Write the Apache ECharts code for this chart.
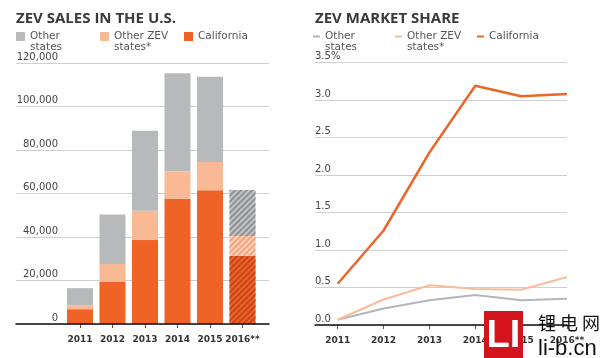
<!DOCTYPE html>
<html>
<head>
<meta charset="utf-8">
<script src="https://cdn.jsdelivr.net/npm/echarts@6/dist/echarts.min.js"></script>
<style>
html,body{margin:0;padding:0;background:#fff;}
#chart{width:600px;height:358px;}
</style>
</head>
<body>
<div id="chart"></div>
<script>
// ---- data ----
const years = ['2011', '2012', '2013', '2014', '2015', '2016**'];
const salesOtherStates = [8000, 22800, 36800, 45100, 39200, 21100];
const salesOtherZev = [1700, 8300, 13500, 12700, 13000, 9100];
const salesCalifornia = [6800, 19300, 38600, 57500, 61500, 31400];
const shareOtherStates = [0.07, 0.22, 0.33, 0.40, 0.33, 0.35];
const shareOtherZev = [0.07, 0.34, 0.53, 0.48, 0.47, 0.64];
const shareCalifornia = [0.55, 1.26, 2.30, 3.19, 3.05, 3.08];
const salesTickLabels = ['0', '20,000', '40,000', '60,000', '80,000', '100,000', '120,000'];
const shareTickLabels = ['0.0', '0.5', '1.0', '1.5', '2.0', '2.5', '3.0', '3.5%'];
const legendNames = ['Other states', 'Other ZEV states*', 'California'];
const legendLabels = {'Other states': ' \nOther\nstates', 'Other ZEV states*': ' \nOther ZEV\nstates*', 'California': 'California'};

const FONT = '"DejaVu Sans", sans-serif';
const TFONT = '"Open Sans", sans-serif';
const C_GRAY = '#b8b9bb', C_LIGHT = '#f9b995', C_ORANGE = '#ef6426';
const L_GRAY = '#b3b6bc', L_LIGHT = '#f9bb98', L_ORANGE = '#e8672c';

function hatch(base, stripe) {
  return {
    color: base,
    decal: {
      symbol: 'rect', symbolSize: 1, symbolKeepAspect: false,
      color: stripe, dashArrayX: [1, 0], dashArrayY: [2, 2], rotation: -Math.PI / 4
    }
  };
}
function barData(values, base, stripe) {
  return values.map((v, i) => i === values.length - 1 ? {value: v, itemStyle: hatch(base, stripe)} : v);
}

const chart = echarts.init(document.getElementById('chart'), null, {renderer: 'canvas'});
const legendText = {fontFamily: FONT, fontSize: 10.5, color: '#555', lineHeight: 11, width: 60};
chart.setOption({
  animation: false,
  backgroundColor: '#fff',
  textStyle: {fontFamily: FONT},
  title: [
    {text: 'ZEV SALES IN THE U.S.', left: 11, top: 6,
     textStyle: {fontFamily: TFONT, fontSize: 15, fontWeight: 700, color: '#3a3a3a'}},
    {text: 'ZEV MARKET SHARE', left: 310, top: 6,
     textStyle: {fontFamily: TFONT, fontSize: 15, fontWeight: 700, color: '#3a3a3a'}}
  ],
  legend: [
    {left: 16, top: 20, icon: 'rect', itemWidth: 9, itemHeight: 9, itemGap: 10, padding: 0,
     data: legendNames.map((n, i) => ({name: n, itemStyle: {color: [C_GRAY, C_LIGHT, C_ORANGE][i], decal: 'none'}})),
     formatter: n => legendLabels[n], textStyle: legendText, selectedMode: false},
    {left: 313, top: 20, icon: 'rect', itemWidth: 7, itemHeight: 2, itemGap: 10, padding: 0,
     data: legendNames.map((n, i) => ({name: n, itemStyle: {color: [L_GRAY, L_LIGHT, L_ORANGE][i]}})),
     formatter: n => legendLabels[n],
     textStyle: Object.assign({}, legendText, {width: 60}), selectedMode: false}
  ],
  grid: [
    {left: 16, right: 331, top: 63, bottom: 34},       // 0: left wide (gridlines)
    {left: 63.75, right: 341.25, top: 63, bottom: 34}, // 1: left bars
    {left: 315, right: 33, top: 62.5, bottom: 33},     // 2: right wide (gridlines)
    {left: 337.7, right: 33, top: 62.5, bottom: 33}    // 3: right lines
  ],
  xAxis: [
    {gridIndex: 0, type: 'value', min: 0, max: 1, z: 3,
     axisLine: {show: true, onZero: false, lineStyle: {color: '#111', width: 1.5}},
     axisTick: {show: false}, axisLabel: {show: false}, splitLine: {show: false}},
    {gridIndex: 1, type: 'category', data: years,
     axisLine: {show: false}, axisTick: {show: true, alignWithLabel: true, length: 4, lineStyle: {color: '#555'}},
     axisLabel: {fontFamily: FONT, fontSize: 9, fontWeight: 'bold', color: '#333', margin: 11, interval: 0}},
    {gridIndex: 2, type: 'value', min: 0, max: 1, z: 3,
     axisLine: {show: true, onZero: false, lineStyle: {color: '#111', width: 1.5}},
     axisTick: {show: false}, axisLabel: {show: false}, splitLine: {show: false}},
    {gridIndex: 3, type: 'category', data: years, boundaryGap: false,
     axisLine: {show: false}, axisTick: {show: true, length: 4, lineStyle: {color: '#555'}},
     axisLabel: {fontFamily: FONT, fontSize: 9, fontWeight: 'bold', color: '#333', margin: 11, interval: 0}}
  ],
  yAxis: [
    {gridIndex: 0, type: 'value', min: 0, max: 120000, interval: 20000,
     axisLine: {show: false}, axisTick: {show: false},
     splitLine: {show: true, lineStyle: {color: '#cfcfcf', width: 1}},
     axisLabel: {align: 'right', margin: -42, verticalAlign: 'bottom', padding: [0, 0, 1, 0],
                 fontFamily: FONT, fontSize: 10, color: '#444',
                 formatter: (v, i) => salesTickLabels[i]}},
    {gridIndex: 1, type: 'value', min: 0, max: 120000, interval: 20000, show: false},
    {gridIndex: 2, type: 'value', min: 0, max: 3.5, interval: 0.5,
     axisLine: {show: false}, axisTick: {show: false},
     splitLine: {show: true, lineStyle: {color: '#cfcfcf', width: 1}},
     axisLabel: {align: 'left', margin: 0, verticalAlign: 'bottom', padding: [0, 0, 1, 0],
                 fontFamily: FONT, fontSize: 10, color: '#444',
                 formatter: (v, i) => shareTickLabels[i]}},
    {gridIndex: 3, type: 'value', min: 0, max: 3.5, interval: 0.5, show: false}
  ],
  series: [
    {name: 'California', type: 'bar', stack: 'sales', xAxisIndex: 1, yAxisIndex: 1, barWidth: 26,
     itemStyle: {color: C_ORANGE}, data: barData(salesCalifornia, C_ORANGE, '#c4461a')},
    {name: 'Other ZEV states*', type: 'bar', stack: 'sales', xAxisIndex: 1, yAxisIndex: 1, barWidth: 26,
     itemStyle: {color: C_LIGHT}, data: barData(salesOtherZev, '#fbd2bb', '#f2a27a')},
    {name: 'Other states', type: 'bar', stack: 'sales', xAxisIndex: 1, yAxisIndex: 1, barWidth: 26,
     itemStyle: {color: C_GRAY}, data: barData(salesOtherStates, '#c3c4c6', '#8e9094')},
    {name: 'Other states', type: 'line', xAxisIndex: 3, yAxisIndex: 3, showSymbol: false,
     lineStyle: {color: L_GRAY, width: 2}, itemStyle: {color: L_GRAY}, data: shareOtherStates},
    {name: 'Other ZEV states*', type: 'line', xAxisIndex: 3, yAxisIndex: 3, showSymbol: false,
     lineStyle: {color: L_LIGHT, width: 2}, itemStyle: {color: L_LIGHT}, data: shareOtherZev},
    {name: 'California', type: 'line', xAxisIndex: 3, yAxisIndex: 3, showSymbol: false,
     lineStyle: {color: L_ORANGE, width: 2.5}, itemStyle: {color: L_ORANGE}, data: shareCalifornia}
  ],
  graphic: [
    {type: 'rect', z: 100, shape: {x: 484, y: 311, width: 39, height: 47}, style: {fill: '#d2151c'}},
    {type: 'text', z: 101, x: 503.5, y: 337, style: {text: 'LI', fill: '#fff', font: 'bold 38px "Liberation Sans", sans-serif', align: 'center', verticalAlign: 'middle'}},
    {type: 'text', z: 101, x: 538, y: 323, style: {text: '锂 电 网', fill: '#111', font: '18px "Noto Sans CJK SC", sans-serif', verticalAlign: 'middle'}},
    {type: 'text', z: 101, x: 538, y: 349, style: {text: 'li-b.cn', fill: '#111', font: '22px "Liberation Sans", sans-serif', verticalAlign: 'middle'}}
  ]
});
</script>
</body>
</html>
